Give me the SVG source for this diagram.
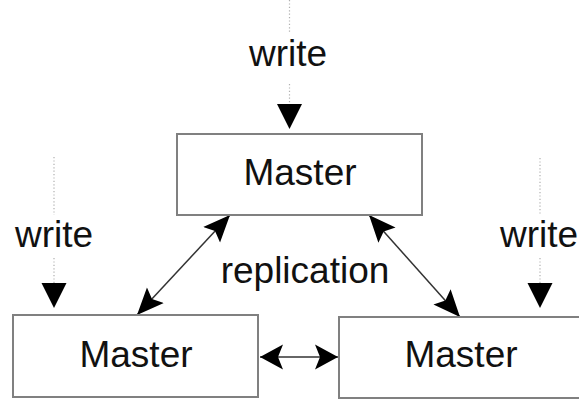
<svg xmlns="http://www.w3.org/2000/svg" width="579" height="399" viewBox="0 0 579 399">
  <defs>
    <style>
      .box { fill: #ffffff; stroke: #808080; stroke-width: 2; }
      .label { font-family: "Liberation Sans", Arial, sans-serif; font-size: 37px; fill: #111111; text-anchor: middle; }
      .feed { fill: none; stroke: #b0b0b0; stroke-width: 1.2; stroke-dasharray: 1.2 2.2; }
      .link { fill: none; stroke: #333333; stroke-width: 1.5; }
    </style>
    <!-- write arrowhead: base sits on the end of the dotted line -->
    <marker id="writeHead" markerUnits="userSpaceOnUse" markerWidth="26" markerHeight="26" viewBox="0 -13 26 26" refX="0" refY="0" orient="auto">
      <path d="M0,-12.5 L25,0 L0,12.5 Z" fill="#000000"/>
    </marker>
    <!-- replication arrowheads, tip on the path end -->
    <marker id="repHead" markerUnits="userSpaceOnUse" markerWidth="28" markerHeight="26" viewBox="0 -13 28 26" refX="27" refY="0" orient="auto-start-reverse">
      <path d="M0,-11.5 L27,0 L0,11.5 L5,0 Z" fill="#000000"/>
    </marker>
    <marker id="sideHead" markerUnits="userSpaceOnUse" markerWidth="24" markerHeight="26" viewBox="0 -13 24 26" refX="23" refY="0" orient="auto-start-reverse">
      <path d="M0,-12.5 L23,0 L0,12.5 L5,0 Z" fill="#000000"/>
    </marker>
  </defs>

  <rect width="579" height="399" fill="#ffffff"/>

  <g id="connectors">
    <!-- incoming writes -->
    <path class="feed" d="M289.5,0 V34"/>
    <path class="feed" d="M289.5,84 V104" marker-end="url(#writeHead)"/>
    <path class="feed" d="M54,157 V215"/>
    <path class="feed" d="M54,258 V283" marker-end="url(#writeHead)"/>
    <path class="feed" d="M540,158 V215"/>
    <path class="feed" d="M540,258 V283" marker-end="url(#writeHead)"/>
    <!-- replication links -->
    <path class="link" d="M230,215 L137,315" marker-start="url(#repHead)" marker-end="url(#repHead)"/>
    <path class="link" d="M369,215 L460,317" marker-start="url(#repHead)" marker-end="url(#repHead)"/>
    <path class="link" d="M260,357 L338,357" marker-start="url(#sideHead)" marker-end="url(#sideHead)"/>
  </g>

  <g id="write-labels">
    <text class="label" x="288" y="66">write</text>
    <text class="label" x="54" y="247">write</text>
    <text class="label" x="539" y="247">write</text>
    <text class="label" x="305" y="283">replication</text>
  </g>

  <g id="master-top">
    <rect class="box" x="177" y="134" width="245" height="81"/>
    <text class="label" x="300" y="185">Master</text>
  </g>

  <g id="master-left">
    <rect class="box" x="13" y="315" width="245" height="82"/>
    <text class="label" x="136" y="367">Master</text>
  </g>

  <g id="master-right">
    <rect class="box" x="339" y="317" width="245" height="81"/>
    <text class="label" x="461" y="367">Master</text>
  </g>
</svg>
